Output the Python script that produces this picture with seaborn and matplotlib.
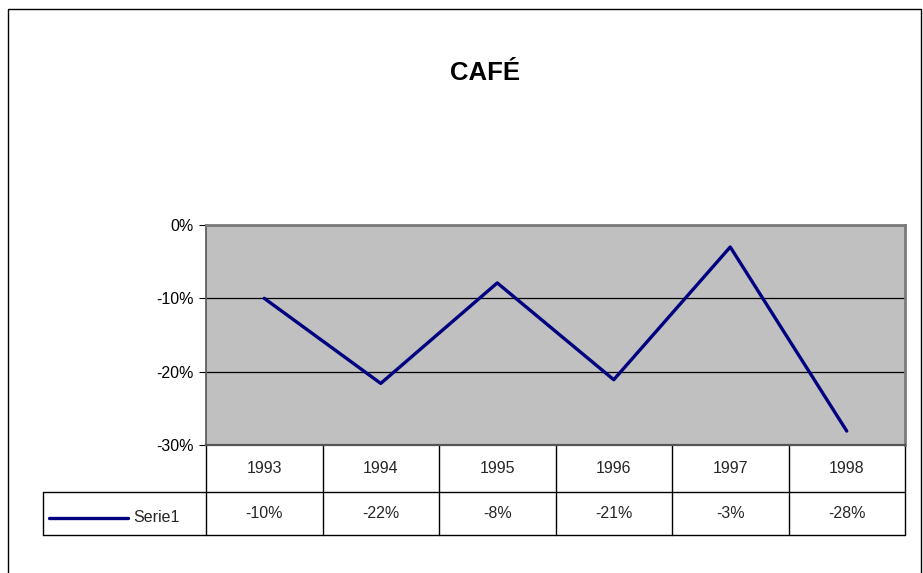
import matplotlib
matplotlib.use("Agg")
import matplotlib.pyplot as plt
import matplotlib.transforms as mtransforms
from matplotlib.patches import Rectangle
import seaborn as sns

# Données
years = ['1993', '1994', '1995', '1996', '1997', '1998']
values = [-0.100, -0.216, -0.079, -0.211, -0.030, -0.281]
series_name = 'Serie1'
title = 'CAFÉ'
y_ticks = [0.0, -0.10, -0.20, -0.30]
y_labels = ['0%', '-10%', '-20%', '-30%']

sns.set_theme(style="white")
plt.rcParams['font.family'] = ['Liberation Sans', 'DejaVu Sans']

W, H = 923, 573
fig = plt.figure(figsize=(W / 100, H / 100), dpi=100)
fig.patch.set_facecolor('white')

# zone de tracé (en pixels: x 206..905, y 225..445)
ax = fig.add_axes([206 / W, 1 - 445 / H, 699 / W, 220 / H])
ax.set_facecolor('#C0C0C0')

xpos = list(range(len(years)))
sns.lineplot(x=xpos, y=values, ax=ax, color='#000080', linewidth=2.4, zorder=3)

ax.set_xlim(-0.5, len(years) - 0.5)
ax.set_ylim(-0.30, 0.0)
ax.set_xticks([])
ax.set_yticks(y_ticks)
ax.set_yticklabels(y_labels)
ax.set_xlabel('')
ax.set_ylabel('')
ax.tick_params(axis='y', left=True, direction='out', length=5, width=0.8,
               color='black', labelsize=11.5, pad=4, labelcolor='black')
ax.set_axisbelow(True)
ax.yaxis.grid(True, color='black', linewidth=0.9)

for side in ['top', 'right']:
    ax.spines[side].set_color('#7a7a7a')
    ax.spines[side].set_linewidth(2)
ax.spines['left'].set_color('#555555')
ax.spines['left'].set_linewidth(1.2)
ax.spines['bottom'].set_color('#555555')
ax.spines['bottom'].set_linewidth(1.6)

# Titre
fig.text(485 / W, 1 - 73 / H, title, ha='center', va='center',
         fontsize=18.5, fontweight='bold', color='black')

# Table de données sous le graphique
trans = mtransforms.blended_transform_factory(ax.transData, ax.transAxes)
col_w = 699 / len(years)
r1 = -47 / 220
r2 = -90 / 220
x_left = -0.5 - (206 - 43) / col_w
x_right = len(years) - 0.5
lkw = dict(color='black', linewidth=1, transform=trans, clip_on=False)

ax.plot([-0.5, -0.5], [0, r2], **lkw)
for i in range(len(years)):
    ax.plot([i + 0.5, i + 0.5], [0, r2], **lkw)
ax.plot([x_left, x_right], [r1, r1], **lkw)
ax.plot([x_left, x_right], [r2, r2], **lkw)
ax.plot([x_left, x_left], [r1, r2], **lkw)

for i, (yr, v) in enumerate(zip(years, values)):
    ax.text(i, r1 / 2, yr, ha='center', va='center', fontsize=11.5,
            transform=trans, clip_on=False)
    ax.text(i, (r1 + r2) / 2, f"{round(v * 100):.0f}%", ha='center',
            va='center', fontsize=11.5, transform=trans, clip_on=False)

# clé de légende dans la table
ly = -(518 - 445) / 220
ax.plot([-0.5 + (49 - 206) / col_w, -0.5 + (128 - 206) / col_w], [ly, ly],
        color='#000080', linewidth=2.4, transform=trans, clip_on=False)
ax.text(-0.5 + (133 - 206) / col_w, ly, series_name, ha='left', va='center',
        fontsize=11.5, transform=trans, clip_on=False)

# cadre extérieur
fig.patches.append(Rectangle((8 / W, -0.02), (921 - 8) / W, 1 - 9 / H + 0.02,
                             transform=fig.transFigure, fill=False,
                             edgecolor='black', linewidth=1))

fig.savefig('out.png', dpi=100)
